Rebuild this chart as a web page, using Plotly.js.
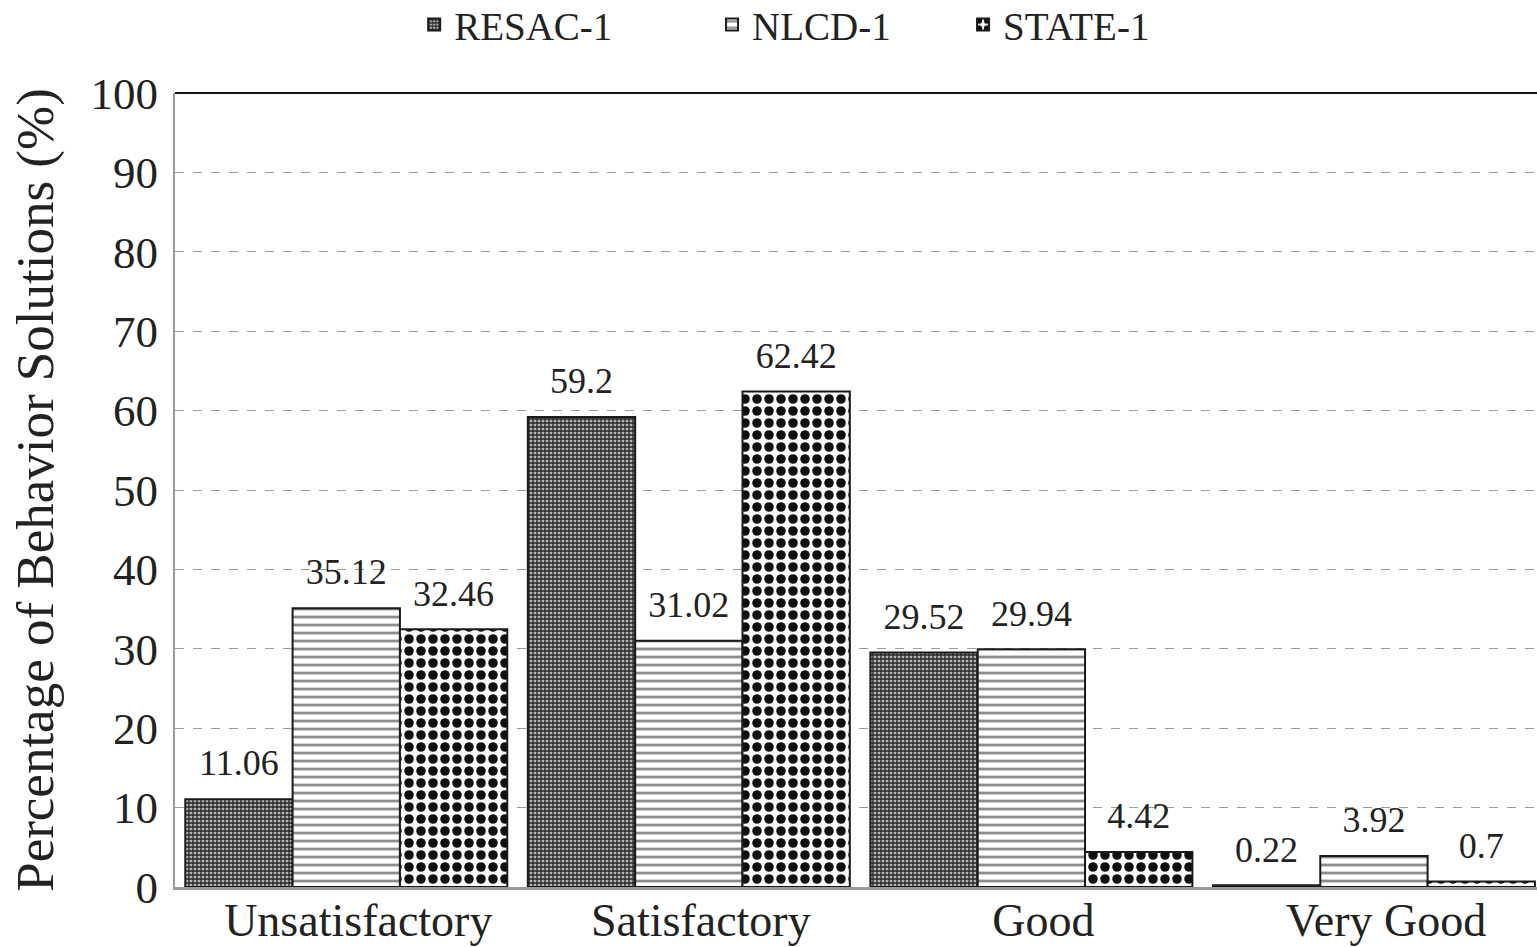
<!DOCTYPE html>
<html>
<head>
<meta charset="utf-8">
<script src="https://cdn.plot.ly/plotly-3.0.1.min.js"></script>
<style>html,body{margin:0;padding:0;background:#fff;}#chart{width:1537px;height:947px;}</style>
</head>
<body>
<div id="chart"></div>
<script>
const categories = ["Unsatisfactory", "Satisfactory", "Good", "Very Good"];
const seriesNames = ["RESAC-1", "NLCD-1", "STATE-1"];
const resac = [11.06, 59.2, 29.52, 0.22];
const nlcd = [35.12, 31.02, 29.94, 3.92];
const state = [32.46, 62.42, 4.42, 0.7];
const yTicks = [0, 10, 20, 30, 40, 50, 60, 70, 80, 90, 100];

const serif = "Liberation Serif, Times New Roman, serif";
const patterns = [
  {shape: "+", bgcolor: "#b5b5b5", fgcolor: "#262626", size: 4, solidity: 0.55, fillmode: "replace"},
  {shape: "-", bgcolor: "#ffffff", fgcolor: "#8c8c8c", size: 8, solidity: 0.35, fillmode: "replace"},
  {shape: ".", bgcolor: "#ffffff", fgcolor: "#111111", size: 12, solidity: 0.5, fillmode: "replace"}
];
const values = [resac, nlcd, state];
const legendIds = ["legend", "legend2", "legend3"];

const barTraces = values.map((v, i) => ({
  type: "bar",
  name: seriesNames[i],
  legend: legendIds[i],
  x: categories,
  y: v,
  marker: {color: "#ffffff", line: {color: "#1a1a1a", width: 2}, pattern: patterns[i]}
}));

const labelTraces = values.map((v, i) => ({
  type: "scatter",
  mode: "markers+text",
  showlegend: false,
  hoverinfo: "skip",
  x: categories,
  y: v,
  text: v.map(String),
  textposition: "top center",
  cliponaxis: false,
  marker: {size: 22, color: "rgba(0,0,0,0)"},
  textfont: {family: serif, size: 36, color: "#222"}
}));

const legendBase = {
  orientation: "h", y: 1.086, yanchor: "middle", xanchor: "left",
  font: {family: serif, size: 39, color: "#222"}, bgcolor: "rgba(0,0,0,0)"
};

const layout = {
  width: 1537, height: 947,
  margin: {l: 175, r: 0, t: 93, b: 60, autoexpand: false},
  paper_bgcolor: "#fff", plot_bgcolor: "#fff",
  barmode: "group", bargap: 0.06, bargroupgap: 0,
  scattermode: "group", scattergap: 0.06,
  font: {family: serif, color: "#222"},
  xaxis: {
    type: "category", range: [-0.5, 3.476],
    showgrid: false, showline: true, linecolor: "#9a9a9a", linewidth: 3,
    ticks: "", ticklabelshift: 12, ticklabelstandoff: -9,
    tickfont: {family: serif, size: 46, color: "#222"}, automargin: false
  },
  yaxis: {
    range: [0, 100], tickvals: yTicks, ticktext: yTicks.map(String),
    showgrid: true, gridcolor: "#9a9a9a", griddash: "dash", gridwidth: 1,
    showline: true, linecolor: "#9a9a9a", linewidth: 2,
    ticks: "", ticklabelstandoff: 6,
    tickfont: {family: serif, size: 45, color: "#222"},
    zeroline: false, automargin: false,
    title: {text: "Percentage of Behavior Solutions (%)", font: {family: serif, size: 53, color: "#222"}, standoff: 20}
  },
  showlegend: true,
  legend: Object.assign({x: 0.1756}, legendBase),
  legend2: Object.assign({x: 0.3943}, legendBase),
  legend3: Object.assign({x: 0.5786}, legendBase),
  shapes: [{type: "line", xref: "paper", yref: "paper", x0: 0, x1: 1, y0: 1, y1: 1, line: {color: "#111", width: 2}}]
};

Plotly.newPlot("chart", barTraces.concat(labelTraces), layout, {displayModeBar: false, staticPlot: true});
</script>
</body>
</html>
